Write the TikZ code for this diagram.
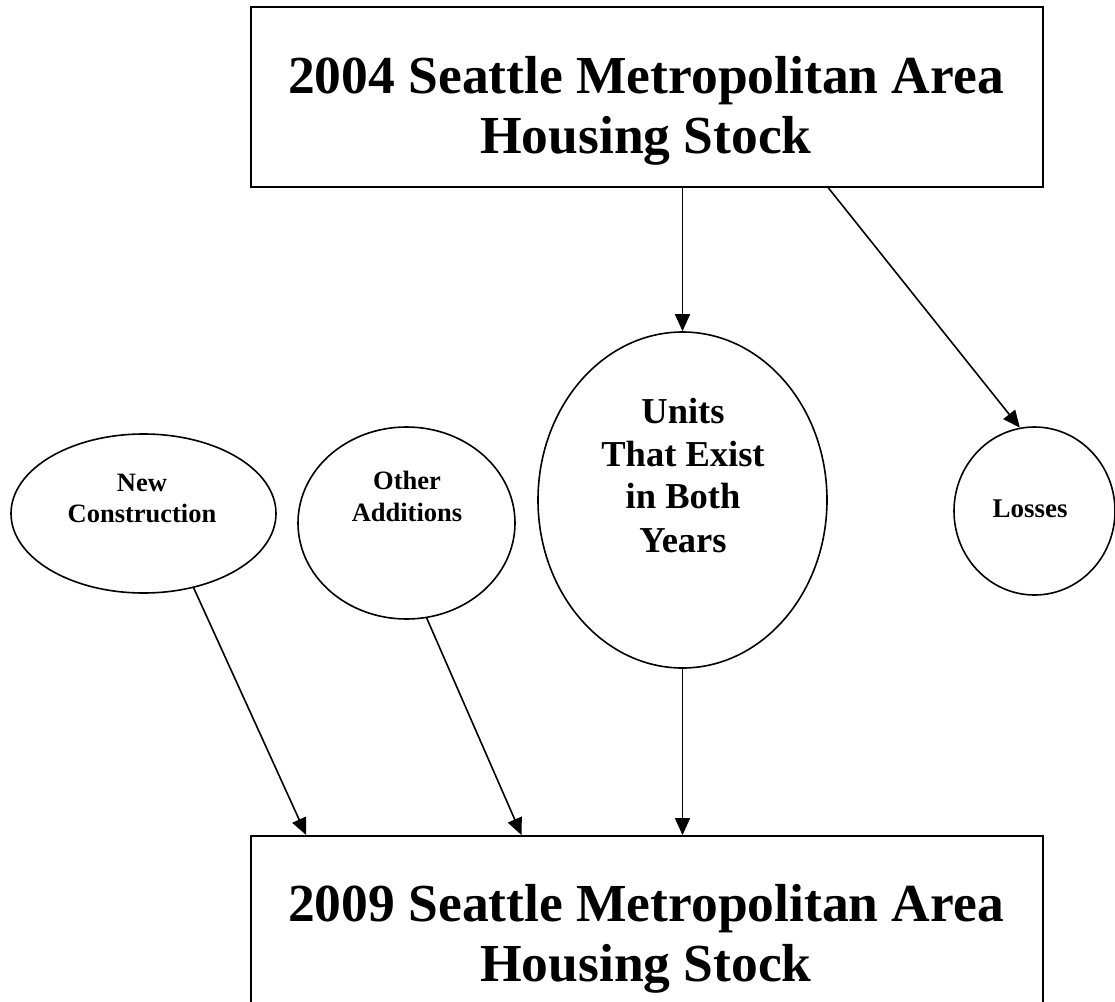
\documentclass[tikz,border=0pt]{standalone}
\usepackage{fontspec}
\setmainfont{Liberation Serif}
\usetikzlibrary{arrows.meta,shapes.geometric,calc}
\begin{document}
\begin{tikzpicture}[x=1pt,y=-1pt,
  box/.style={draw,line width=1.8pt,rectangle,minimum width=792pt,minimum height=180pt,inner sep=0pt},
  oval/.style={draw,line width=1.6pt,ellipse,inner sep=0pt},
  bigtxt/.style={font=\fontsize{53.5}{60}\selectfont\bfseries,anchor=base,inner sep=0pt},
  midtxt/.style={font=\fontsize{36.5}{43}\selectfont\bfseries,anchor=base,inner sep=0pt},
  smalltxt/.style={font=\fontsize{26.5}{32}\selectfont\bfseries,anchor=base,inner sep=0pt},
  arr/.style={line width=1.6pt,-{Triangle[length=17pt,width=15pt]}}
]
\useasboundingbox (0,0) rectangle (1115,1001);
\clip (0,0) rectangle (1115,1001);

% boxes
\node[box] (top) at (647,97) {};
\node[box] (bot) at (647,926) {};
\node[bigtxt] (t1) at (646,93) {2004 Seattle Metropolitan Area};
\node[bigtxt] (t2) at (646,153) {Housing Stock};
\node[bigtxt] (b1) at (646,921) {2009 Seattle Metropolitan Area};
\node[bigtxt] (b2) at (646,981) {Housing Stock};

% ellipses
\node[oval,minimum width=265pt,minimum height=159pt] (nc) at (143.5,513.5) {};
\node[oval,minimum width=217pt,minimum height=192pt] (oa) at (406.5,523) {};
\node[oval,minimum width=289pt,minimum height=336pt] (un) at (682.5,500) {};
\node[oval,minimum width=161pt,minimum height=168pt] (lo) at (1034.5,511) {};

\node[smalltxt] (nc1) at (142,491) {New};
\node[smalltxt] (nc2) at (142,522) {Construction};
\node[smalltxt] (oa1) at (407,489) {Other};
\node[smalltxt] (oa2) at (407,521) {Additions};
\node[midtxt] (un1) at (683,423) {Units};
\node[midtxt] (un2) at (683,466) {That Exist};
\node[midtxt] (un3) at (683,508) {in Both};
\node[midtxt] (un4) at (683,552) {Years};
\node[font=\fontsize{27}{32}\selectfont\bfseries,anchor=base,inner sep=0pt] (lo1) at (1030,517) {Losses};

% connectors
\draw[arr] (un.north |- top.south) -- (un.north);
\draw[arr] ($(top.south west)!0.7285!(top.south east)$) -- (lo.100.8);
\draw[arr] (nc.-56) -- ($(bot.north west)!0.0707!(bot.north east)$);
\draw[arr] (oa.-78.4) -- ($(bot.north west)!0.342!(bot.north east)$);
\draw[arr] (un.south) -- (un.south |- bot.north);
\end{tikzpicture}
\end{document}
